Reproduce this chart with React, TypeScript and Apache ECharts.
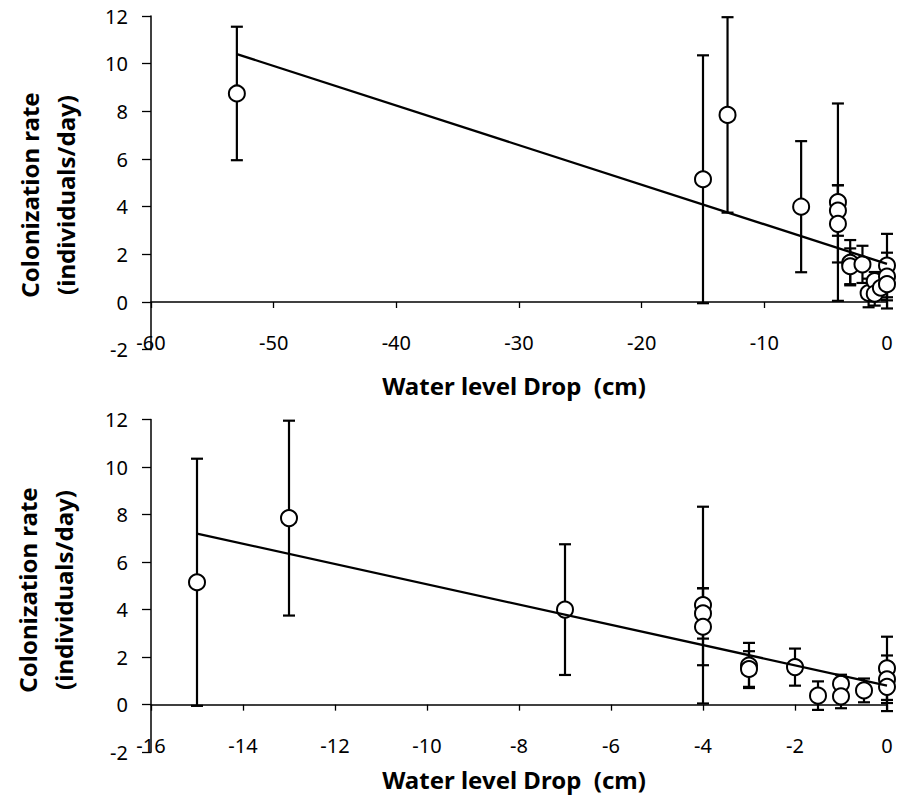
import React, { useEffect, useRef } from "react";
import * as echarts from "echarts";

// Data
const drop = [-53, -15, -13, -7, -4, -4, -4, -3, -3, -2, -1.5, -1, -1, -0.5, 0, 0, 0];
const rate = [8.75, 5.15, 7.85, 4.0, 4.19, 3.84, 3.28, 1.65, 1.5, 1.58, 0.38, 0.88, 0.35, 0.6, 1.53, 1.07, 0.75];
const errBar = [2.8, 5.2, 4.1, 2.75, 4.14, 1.06, 1.62, 0.95, 0.75, 0.78, 0.6, 0.38, 0.5, 0.5, 1.33, 1.0, 1.02];

const trendTopX = [-53, 0];
const trendTopY = [10.4, 1.6];
const trendBottomX = [-15, 0];
const trendBottomY = [7.2, 0.8];

const topXTicks = { min: -60, max: 0, interval: 10 };
const bottomXTicks = { min: -16, max: 0, interval: 2 };
const yTicks = { min: -2, max: 12, interval: 2 };

const xTitle = "Water level Drop  (cm)";
const yTitle = "Colonization rate\n(individuals/day)";

const FONT = "Noto Sans";

export default function App() {
  const ref = useRef<HTMLDivElement>(null);

  useEffect(() => {
    document.body.style.margin = "0";
    if (!ref.current) return;
    const chart = echarts.init(ref.current, null, { renderer: "svg" });

    const allPts = drop.map((d, i) => [d, rate[i], errBar[i]]);
    const bottomPts = allPts.filter((p) => p[0] >= bottomXTicks.min);

    const grids = [
      { left: 151, top: 16, width: 736, height: 333.7 },
      { left: 151, top: 419.5, width: 736, height: 332.7 },
    ];

    const zeroAxis = (gi: number, t: any) => ({
      type: "value",
      gridIndex: gi,
      min: t.min,
      max: t.max,
      interval: t.interval,
      position: "bottom",
      axisLine: { show: true, onZero: true, lineStyle: { color: "#000", width: 1.5 } },
      axisTick: { show: true, inside: false, length: 6, lineStyle: { color: "#000", width: 1.3 } },
      axisLabel: { show: false },
      splitLine: { show: false },
    });
    const labelAxis = (gi: number, t: any) => ({
      type: "value",
      gridIndex: gi,
      min: t.min,
      max: t.max,
      interval: t.interval,
      position: "bottom",
      axisLine: { show: false, onZero: false },
      axisTick: { show: false },
      axisLabel: {
        show: true,
        margin: -7,
        verticalAlign: "middle",
        fontSize: 20,
        color: "#000",
        fontFamily: FONT,
        showMinLabel: true,
        showMaxLabel: true,
      },
      splitLine: { show: false },
    });
    const yAx = (gi: number) => ({
      type: "value",
      gridIndex: gi,
      min: yTicks.min,
      max: yTicks.max,
      interval: yTicks.interval,
      position: "left",
      axisLine: { show: true, onZero: false, lineStyle: { color: "#000", width: 1.5 } },
      axisTick: { show: true, inside: false, length: 9, lineStyle: { color: "#000", width: 1.3 } },
      axisLabel: { margin: 23, fontSize: 20, color: "#000", fontFamily: FONT },
      splitLine: { show: false },
    });

    const errSeries = (xi: number, yi: number, data: number[][]) => ({
      type: "custom",
      xAxisIndex: xi,
      yAxisIndex: yi,
      data,
      encode: { x: 0, y: 1 },
      z: 2,
      renderItem: (params: any, api: any) => {
        const x = api.value(0);
        const y = api.value(1);
        const e = api.value(2);
        const top = api.coord([x, y + e]);
        const bot = api.coord([x, y - e]);
        const cap = 6;
        const style = { stroke: "#000", lineWidth: 2.2 };
        return {
          type: "group",
          children: [
            { type: "line", shape: { x1: top[0], y1: top[1], x2: bot[0], y2: bot[1] }, style },
            { type: "line", shape: { x1: top[0] - cap, y1: top[1], x2: top[0] + cap, y2: top[1] }, style },
            { type: "line", shape: { x1: bot[0] - cap, y1: bot[1], x2: bot[0] + cap, y2: bot[1] }, style },
          ],
        };
      },
    });

    const scatterSeries = (xi: number, yi: number, data: number[][]) => ({
      type: "scatter",
      xAxisIndex: xi,
      yAxisIndex: yi,
      data: data.map((p) => [p[0], p[1]]),
      symbol: "circle",
      symbolSize: 16,
      itemStyle: { color: "#fff", borderColor: "#000", borderWidth: 2, opacity: 1 },
      z: 3,
    });

    const lineSeries = (xi: number, yi: number, xs: number[], ys: number[]) => ({
      type: "line",
      xAxisIndex: xi,
      yAxisIndex: yi,
      data: xs.map((x, i) => [x, ys[i]]),
      showSymbol: false,
      symbol: "none",
      lineStyle: { color: "#000", width: 2.3 },
      z: 4,
    });

    const titleStyle = {
      fontFamily: FONT,
      fontWeight: "bold",
      fontSize: 24,
      fill: "#000",
      align: "center",
      verticalAlign: "middle",
    };

    const option: any = {
      animation: false,
      textStyle: { fontFamily: FONT },
      grid: grids,
      xAxis: [
        zeroAxis(0, topXTicks),
        labelAxis(0, topXTicks),
        zeroAxis(1, bottomXTicks),
        labelAxis(1, bottomXTicks),
      ],
      yAxis: [yAx(0), yAx(1)],
      series: [
        errSeries(0, 0, allPts),
        scatterSeries(0, 0, allPts),
        lineSeries(0, 0, trendTopX, trendTopY),
        errSeries(2, 1, bottomPts),
        scatterSeries(2, 1, bottomPts),
        lineSeries(2, 1, trendBottomX, trendBottomY),
      ],
      graphic: [
        { type: "text", x: 47, y: 195, rotation: Math.PI / 2, style: { ...titleStyle, text: yTitle, lineHeight: 36 } },
        { type: "text", x: 45, y: 590, rotation: Math.PI / 2, style: { ...titleStyle, text: yTitle, lineHeight: 36 } },
        { type: "text", x: 514, y: 385, style: { ...titleStyle, text: xTitle } },
        { type: "text", x: 514, y: 779, style: { ...titleStyle, text: xTitle } },
      ],
    };

    chart.setOption(option);
    return () => chart.dispose();
  }, []);

  return <div ref={ref} style={{ width: 900, height: 795 }} />;
}
